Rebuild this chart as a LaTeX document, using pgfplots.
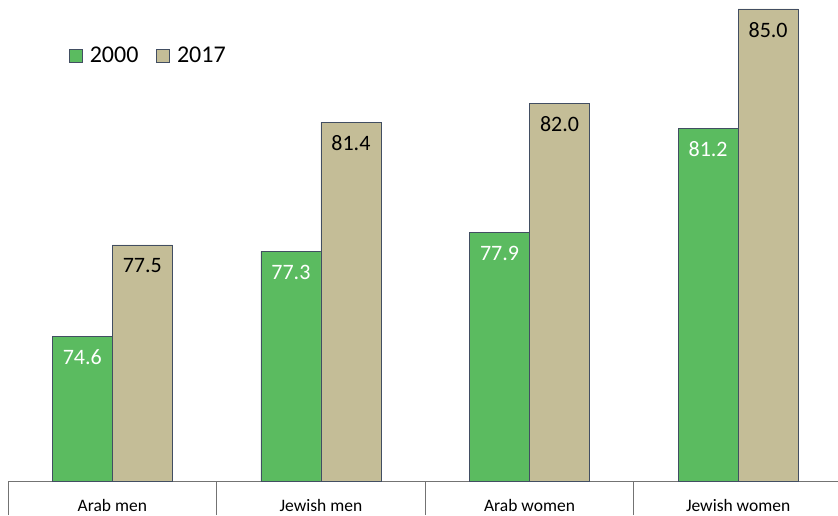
\documentclass[border=0pt]{standalone}
\usepackage{fontspec}
\setmainfont{Carlito}
\usepackage{pgfplots}
\pgfplotsset{compat=1.18}
\definecolor{g}{RGB}{91,187,96}
\definecolor{t}{RGB}{196,189,151}
\definecolor{edge}{RGB}{66,78,98}
\begin{document}
\begin{tikzpicture}
\begin{axis}[
  at={(8pt,34pt)}, anchor=south west,
  scale only axis, width=834.4pt, height=481pt,
  xmin=-0.5, xmax=3.5, ymin=70, ymax=85.284,
  ybar=0pt, bar width=60pt,
  hide y axis, axis x line*=bottom,
  x axis line style={black!55, line width=0.8pt},
  xtick={0,1,2,3}, xticklabels={Arab men, Jewish men, Arab women, Jewish women},
  major tick length=0pt,
  xticklabel style={anchor=base, yshift=-30pt, font=\fontsize{17.5}{20}\selectfont},
  extra x ticks={-0.5,0.5,1.5,2.5,3.5}, extra x tick labels={},
  extra x tick style={xtick align=outside, major tick length=34pt, tick style={black!55, line width=0.8pt}},
  nodes near coords={\pgfmathprintnumber[fixed,fixed zerofill,precision=1,assume math mode=true]{\pgfplotspointmeta}},
  every node near coord/.append style={anchor=center, yshift=-21pt, font=\fontsize{22}{26}\selectfont},
  legend style={at={(rel axis cs:0.0695,0.911)}, anchor=north west, draw=none, fill=none,
    legend columns=2, font=\fontsize{24}{28}\selectfont,
    /tikz/every odd column/.append style={column sep=5pt},
    /tikz/every even column/.append style={column sep=16pt}},
  legend image code/.code={\draw[#1, draw=edge, line width=0.6pt] (0pt,-6.5pt) rectangle (13pt,6.5pt);},
]
\addplot[fill=g, draw=edge, line width=0.6pt, every node near coord/.append style={text=white}]
  coordinates {(0,74.6) (1,77.3) (2,77.9) (3,81.2)};
\addplot[fill=t, draw=edge, line width=0.6pt, every node near coord/.append style={text=black}]
  coordinates {(0,77.5) (1,81.4) (2,82.0) (3,85.0)};
\legend{2000,2017}
\end{axis}
\pgfresetboundingbox
\path[use as bounding box] (0,0) rectangle (838pt,515pt);
\end{tikzpicture}
\end{document}
